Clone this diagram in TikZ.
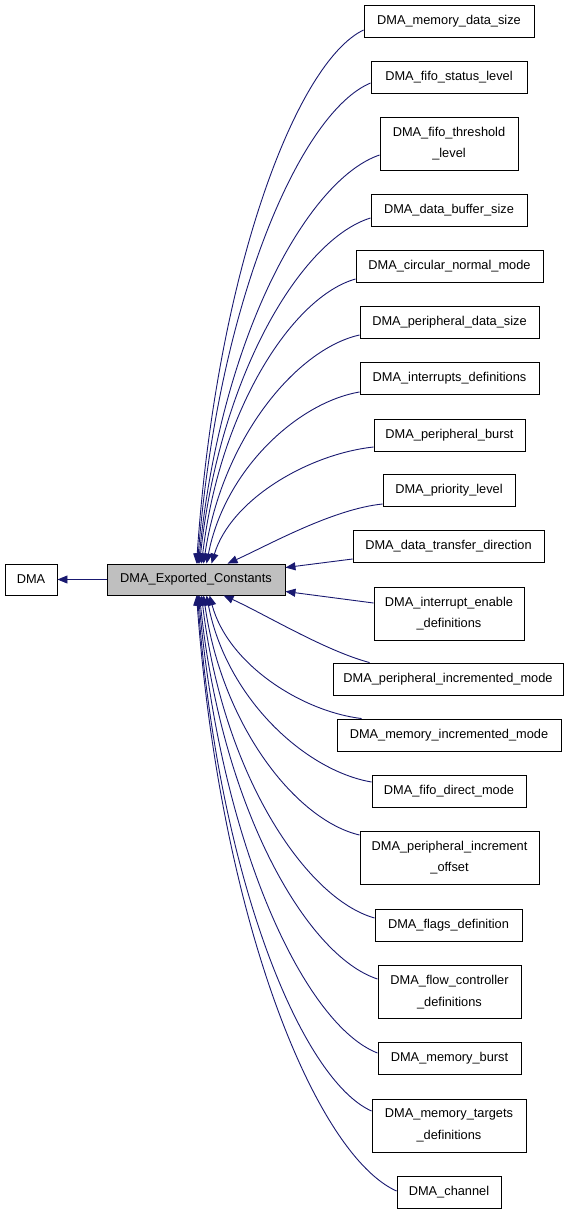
\documentclass[tikz,border=0pt]{standalone}
\usepackage{fontspec}
\setmainfont{Liberation Sans}
\usetikzlibrary{arrows.meta,calc}
\definecolor{edgeblue}{HTML}{191970}
\definecolor{curfill}{HTML}{BFBFBF}
\begin{document}
\begin{tikzpicture}[x=1pt,y=-1pt,
  box/.style={draw=black, line width=0.9pt, inner sep=0pt, align=center, minimum height=32pt, font=\fontsize{12.8}{21.5}\selectfont},
  tall/.style={minimum height=53pt},
  edge/.style={draw=edgeblue, line width=0.9pt, -{Triangle[length=10pt,width=8pt]}},
]
\useasboundingbox (0,0) rectangle (571,1213);

\node[box, minimum width=52pt, minimum height=31pt] (dma) at (31,579.5) {DMA};
\node[box, fill=curfill, minimum width=178pt, minimum height=31pt] (ec) at (196,579.5) {DMA\_Exported\_Constants};

\node[box, minimum width=170pt] (n1) at (449,21) {DMA\_memory\_data\_size};
\node[box, minimum width=156pt] (n2) at (449,77) {DMA\_fifo\_status\_level};
\node[box, tall, minimum width=138pt] (n3) at (449,143.5) {DMA\_fifo\_threshold\\\_level};
\node[box, minimum width=156pt] (n4) at (449,210) {DMA\_data\_buffer\_size};
\node[box, minimum width=187pt] (n5) at (449.5,266) {DMA\_circular\_normal\_mode};
\node[box, minimum width=179pt] (n6) at (449.5,322) {DMA\_peripheral\_data\_size};
\node[box, minimum width=179pt] (n7) at (449.5,378.5) {DMA\_interrupts\_definitions};
\node[box, minimum width=151pt] (n8) at (449.5,435) {DMA\_peripheral\_burst};
\node[box, minimum width=132pt] (n9) at (449,490.5) {DMA\_priority\_level};
\node[box, minimum width=191pt] (n10) at (448.5,546) {DMA\_data\_transfer\_direction};
\node[box, tall, minimum width=150pt] (n11) at (449,613.5) {DMA\_interrupt\_enable\\\_definitions};
\node[box, minimum width=230pt] (n12) at (448,679) {DMA\_peripheral\_incremented\_mode};
\node[box, minimum width=224pt] (n13) at (449,735) {DMA\_memory\_incremented\_mode};
\node[box, minimum width=154pt] (n14) at (449,791) {DMA\_fifo\_direct\_mode};
\node[box, tall, minimum width=179pt] (n15) at (449.5,857.5) {DMA\_peripheral\_increment\\\_offset};
\node[box, minimum width=147pt] (n16) at (448.5,925) {DMA\_flags\_definition};
\node[box, tall, minimum width=143pt] (n17) at (449.5,992) {DMA\_flow\_controller\\\_definitions};
\node[box, minimum width=143pt] (n18) at (449.5,1058) {DMA\_memory\_burst};
\node[box, tall, minimum width=154pt] (n19) at (449,1125.5) {DMA\_memory\_targets\\\_definitions};
\node[box, minimum width=104pt] (n20) at (449,1192) {DMA\_channel};

\draw[edge] (ec.west) -- (dma.east);

\draw[edge] ($(n1.west)+(0,9)$) .. controls +(-66.8,32) and +(20,-293.7) .. ($(ec.north west)+(90,0)$);
\draw[edge] ($(n2.west)+(0,6)$) .. controls +(-69.2,28.9) and +(20.8,-264.6) .. ($(ec.north west)+(91,0)$);
\draw[edge] ($(n3.west)+(0,11.5)$) .. controls +(-72.4,24.5) and +(21.7,-225) .. ($(ec.north west)+(92,0)$);
\draw[edge] ($(n4.west)+(0,8)$) .. controls +(-68.4,20.8) and +(20.5,-190.3) .. ($(ec.north west)+(93,0)$);
\draw[edge] ($(n5.west)+(0,13)$) .. controls +(-61.6,17.1) and +(18.5,-156.8) .. ($(ec.north west)+(95,0)$);
\draw[edge] ($(n6.west)+(0,13)$) .. controls +(-62.4,13.7) and +(18.7,-126) .. ($(ec.north west)+(97,0)$);
\draw[edge] ($(n7.west)+(0,13.5)$) .. controls +(-61.2,10.3) and +(18.4,-94.6) .. ($(ec.north west)+(100,0)$);
\draw[edge] ($(n8.west)+(0,12)$) .. controls +(-64.8,7) and +(19.4,-64.4) .. ($(ec.north west)+(105,0)$);
\draw[edge] ($(n9.west)+(0,13.5)$) .. controls +(-50,5) and +(40,-18) .. ($(ec.north west)+(121,0)$);
\draw[edge] ($(n10.west)+(0,13)$) -- ($(ec.north east)+(0,4)$);
\draw[edge] ($(n11.west)+(0,-10.5)$) -- ($(ec.south east)+(0,-4)$);
\draw[edge] ($(n12.north west)+(37,0)$) .. controls +(-45,-12) and +(40,18) .. ($(ec.south west)+(117,0)$);
\draw[edge] ($(n13.north west)+(25,0)$) .. controls +(-60.8,-7.4) and +(18.2,68.2) .. ($(ec.south west)+(103,0)$);
\draw[edge] ($(n14.west)+(0,-9)$) .. controls +(-66,-11.2) and +(19.8,102.9) .. ($(ec.south west)+(100,0)$);
\draw[edge] ($(n15.west)+(0,-22.5)$) .. controls +(-62.4,-14.4) and +(18.7,132) .. ($(ec.south west)+(97,0)$);
\draw[edge] ($(n16.west)+(0,-7)$) .. controls +(-69.2,-19.4) and +(20.8,177.7) .. ($(ec.south west)+(95,0)$);
\draw[edge] ($(n17.west)+(0,-13)$) .. controls +(-71.2,-23) and +(21.4,211.2) .. ($(ec.south west)+(93,0)$);
\draw[edge] ($(n18.west)+(0,-5)$) .. controls +(-71.6,-27.5) and +(21.5,251.9) .. ($(ec.south west)+(92,0)$);
\draw[edge] ($(n19.west)+(0,-14.5)$) .. controls +(-69.6,-31) and +(20.9,283.8) .. ($(ec.south west)+(91,0)$);
\draw[edge] ($(n20.west)+(0,-1)$) .. controls +(-80,-35.8) and +(24,327.8) .. ($(ec.south west)+(90,0)$);
\end{tikzpicture}
\end{document}
